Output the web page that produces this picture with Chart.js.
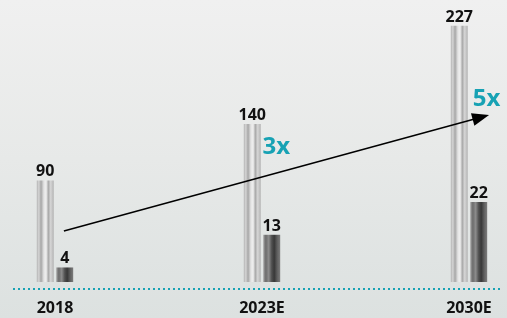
<!DOCTYPE html>
<html>
<head>
<meta charset="utf-8">
<title>Growth chart</title>
<script src="https://cdn.jsdelivr.net/npm/chart.js@4/dist/chart.umd.min.js"></script>
<style>
  html, body { margin: 0; padding: 0; }
  body {
    width: 507px;
    height: 318px;
    overflow: hidden;
    background: linear-gradient(180deg, #f0f0f0 0%, #e7e9e8 50%, #dce1e0 100%);
  }
</style>
</head>
<body>
<canvas id="chart" width="507" height="318"></canvas>
<script>
// ── Data ──────────────────────────────────────────────────────────────────────
const YEARS       = ['2018', '2023E', '2030E'];
const MAIN_VALUES = [90, 140, 227];   // tall silver bars
const SUB_VALUES  = [4, 13, 22];      // short dark bars (own scale)
const GROWTH      = ['3x', '5x'];

// ── Look ──────────────────────────────────────────────────────────────────────
const TEAL = '#17a2b4';
const INK  = '#111111';
const FONT = '"Open Sans", "Noto Sans", sans-serif';

const SILVER_STOPS = [
  [0.00, '#b4b4b4'], [0.12, '#d4d4d4'], [0.25, '#a6a6a6'], [0.42, '#e4e4e4'],
  [0.55, '#efefef'], [0.68, '#a9a9a9'], [0.82, '#d6d6d6'], [1.00, '#b2b2b2'],
];
const DARK_STOPS = [
  [0.00, '#a2a2a2'], [0.15, '#6c6c6c'], [0.32, '#8c8c8c'], [0.50, '#505050'],
  [0.65, '#383838'], [0.82, '#5e5e5e'], [1.00, '#7c7c7c'],
];

// annotation anchors, in data units (x = category index, y = main scale)
const ARROW      = { from: [0.043, 45.2], to: [2.097, 147.9] };
const GROWTH_POS = [[1.003, 113.4], [2.018, 155.9]];

const Y_MIN = -6.2;

// ── Plugins ───────────────────────────────────────────────────────────────────
const barShading = {
  id: 'barShading',
  afterDatasetsUpdate(chart) {
    chart.data.datasets.forEach((ds, di) => {
      const stops = di === 0 ? SILVER_STOPS : DARK_STOPS;
      chart.getDatasetMeta(di).data.forEach(el => {
        const g = chart.ctx.createLinearGradient(el.x - el.width / 2, 0, el.x + el.width / 2, 0);
        stops.forEach(([o, c]) => g.addColorStop(o, c));
        el.options = Object.assign({}, el.options, { backgroundColor: g });
      });
    });
  },
};

const valueLabels = {
  id: 'valueLabels',
  afterDatasetsDraw(chart) {
    const { ctx } = chart;
    ctx.save();
    ctx.font = `bold 16px ${FONT}`;
    ctx.fillStyle = INK;
    ctx.textAlign = 'center';
    ctx.textBaseline = 'alphabetic';
    chart.data.datasets.forEach((ds, di) => {
      chart.getDatasetMeta(di).data.forEach((el, i) => {
        ctx.fillText(String(ds.data[i].y), el.x, el.y - 4);
      });
    });
    ctx.restore();
  },
};

const growthArrow = {
  id: 'growthArrow',
  afterDraw(chart) {
    const { ctx, scales: { x, y } } = chart;
    const x0 = x.getPixelForValue(ARROW.from[0]), y0 = y.getPixelForValue(ARROW.from[1]);
    const x1 = x.getPixelForValue(ARROW.to[0]),   y1 = y.getPixelForValue(ARROW.to[1]);
    const ang = Math.atan2(y1 - y0, x1 - x0);
    const headLen = 17, headHalf = 6.5;

    ctx.save();
    ctx.strokeStyle = '#000';
    ctx.fillStyle = '#000';
    ctx.lineWidth = 1.5;
    ctx.beginPath();
    ctx.moveTo(x0, y0);
    ctx.lineTo(x1 - Math.cos(ang) * (headLen - 2), y1 - Math.sin(ang) * (headLen - 2));
    ctx.stroke();

    ctx.translate(x1, y1);
    ctx.rotate(ang);
    ctx.beginPath();
    ctx.moveTo(0, 0);
    ctx.lineTo(-headLen, -headHalf);
    ctx.lineTo(-headLen, headHalf);
    ctx.closePath();
    ctx.fill();
    ctx.restore();

    // growth multipliers
    ctx.save();
    ctx.font = `bold 24px ${FONT}`;
    ctx.fillStyle = TEAL;
    ctx.textAlign = 'left';
    ctx.textBaseline = 'alphabetic';
    GROWTH.forEach((txt, i) => {
      const [gx, gy] = GROWTH_POS[i];
      ctx.fillText(txt, x.getPixelForValue(gx), y.getPixelForValue(gy));
    });
    ctx.restore();
  },
};

// ── Chart ─────────────────────────────────────────────────────────────────────
Chart.defaults.font.family = FONT;

new Chart(document.getElementById('chart'), {
  type: 'bar',
  data: {
    datasets: [
      {
        label: 'Main',
        data: MAIN_VALUES.map((v, i) => ({ x: i, y: v })),
        yAxisID: 'y',
        backgroundColor: '#c8c8c8',
        borderWidth: 0,
        barPercentage: 0.87,
        categoryPercentage: 0.188,
      },
      {
        label: 'Sub',
        data: SUB_VALUES.map((v, i) => ({ x: i, y: v })),
        yAxisID: 'y2',
        backgroundColor: '#606060',
        borderWidth: 0,
        barPercentage: 0.87,
        categoryPercentage: 0.188,
      },
    ],
  },
  options: {
    responsive: false,
    animation: false,
    devicePixelRatio: 1,
    layout: { padding: { top: 10, left: 13, right: 7, bottom: 0 } },
    plugins: { legend: { display: false }, tooltip: { enabled: false } },
    scales: {
      x: {
        type: 'linear',
        offset: false,
        min: -0.2029,
        max: 2.1498,
        grid: { display: false },
        border: { display: false },
        ticks: {
          color: INK,
          font: { size: 16, weight: 'bold' },
          padding: 2,
          autoSkip: false,
          maxRotation: 0,
          callback: v => YEARS[v] ?? '',
        },
        afterBuildTicks: s => { s.ticks = YEARS.map((_, i) => ({ value: i })); },
        afterFit: s => { s.height = 29; },
      },
      // main scale: only its baseline grid line is shown, as the dotted teal rule
      y: {
        min: Y_MIN,
        max: 240.9,
        ticks: { display: false },
        grid: { color: TEAL, lineWidth: 2, drawTicks: false },
        border: { display: false, dash: [2, 3] },
        afterBuildTicks: s => { s.ticks = [{ value: Y_MIN }]; },
        afterFit: s => { s.width = 0; },
      },
      y2: { display: false, min: -1.93, max: 74.9 },
    },
  },
  plugins: [barShading, valueLabels, growthArrow],
});
</script>
</body>
</html>
